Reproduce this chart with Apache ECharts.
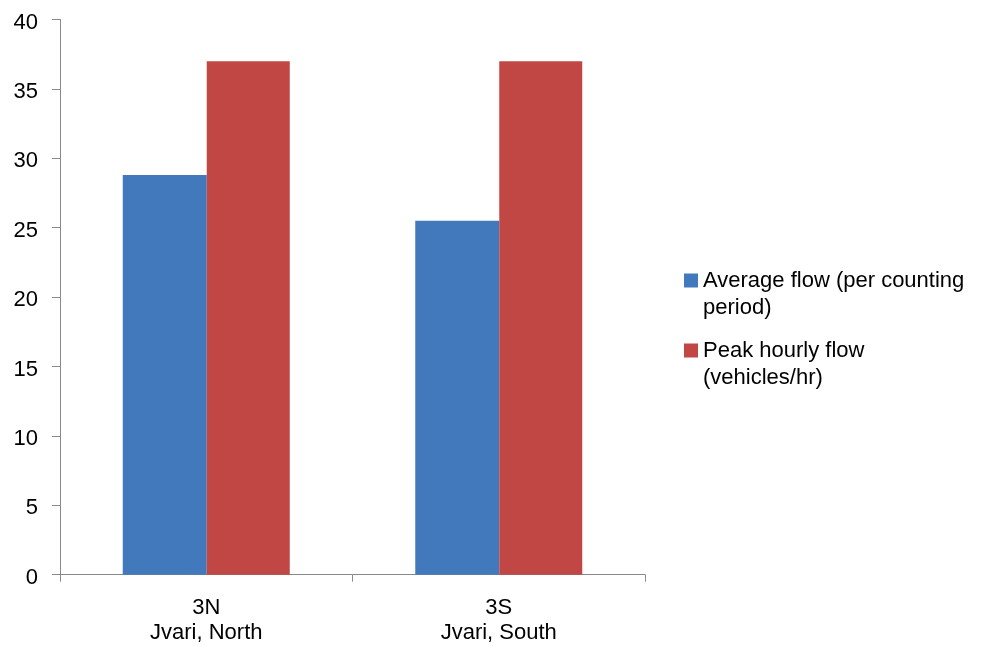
<!DOCTYPE html>
<html>
<head>
<meta charset="utf-8">
<script src="https://cdn.jsdelivr.net/npm/echarts@6/dist/echarts.min.js"></script>
<style>
html,body{margin:0;padding:0;background:#fff;}
#chart{width:1005px;height:647px;}
</style>
</head>
<body>
<div id="chart"></div>
<script>
var siteCodes = ['3N', '3S'];
var siteNames = ['Jvari, North', 'Jvari, South'];
var seriesNames = ['Average flow (per counting period)', 'Peak hourly flow (vehicles/hr)'];
var legendLines = {
  'Average flow (per counting period)': ['Average flow (per counting', 'period)'],
  'Peak hourly flow (vehicles/hr)': ['Peak hourly flow', '(vehicles/hr)']
};
var averageFlow = [28.8, 25.5];
var peakHourlyFlow = [37, 37];
var yTicks = [0, 5, 10, 15, 20, 25, 30, 35, 40];

var categories = siteCodes.map(function (c, i) { return c + '\n' + siteNames[i]; });
var FONT = "'Liberation Sans', Arial, sans-serif";
var axisGrey = '#898989';

var chart = echarts.init(document.getElementById('chart'), null, {renderer: 'canvas'});
chart.setOption({
  animation: false,
  backgroundColor: '#ffffff',
  textStyle: {fontFamily: FONT},
  grid: {left: 60, right: 360, top: 19.5, bottom: 72.3, containLabel: false},
  legend: {
    orient: 'vertical',
    left: 679,
    top: 235,
    icon: 'rect',
    itemWidth: 14,
    itemHeight: 14,
    itemGap: -11,
    data: seriesNames,
    formatter: function (n) { return '\n' + legendLines[n].join('\n'); },
    textStyle: {
      fontFamily: FONT,
      fontSize: 22,
      color: '#000',
      lineHeight: 27
    }
  },
  xAxis: {
    type: 'category',
    data: categories,
    axisLine: {lineStyle: {color: axisGrey, width: 1}},
    axisTick: {show: true, length: 7, lineStyle: {color: axisGrey}},
    axisLabel: {
      fontFamily: FONT,
      fontSize: 22,
      color: '#000',
      lineHeight: 25.5,
      margin: 20,
      interval: 0
    }
  },
  yAxis: {
    type: 'value',
    min: yTicks[0],
    max: yTicks[yTicks.length - 1],
    interval: yTicks[1] - yTicks[0],
    splitLine: {show: false},
    axisLine: {show: true, lineStyle: {color: axisGrey, width: 1}},
    axisTick: {show: true, length: 8, lineStyle: {color: axisGrey}},
    axisLabel: {
      color: '#000',
      margin: 22,
      formatter: function (v) { return '{v|' + v + '}'; },
      rich: {
        v: {fontFamily: FONT, fontSize: 22, color: '#000', padding: [6, 0, 0, 0]}
      }
    }
  },
  series: [
    {
      name: seriesNames[0],
      type: 'bar',
      data: averageFlow,
      barWidth: 84,
      barGap: '0%',
      itemStyle: {color: '#4279BD'}
    },
    {
      name: seriesNames[1],
      type: 'bar',
      data: peakHourlyFlow,
      barWidth: 83,
      barGap: '0%',
      itemStyle: {color: '#C04744'}
    }
  ]
});
</script>
</body>
</html>
